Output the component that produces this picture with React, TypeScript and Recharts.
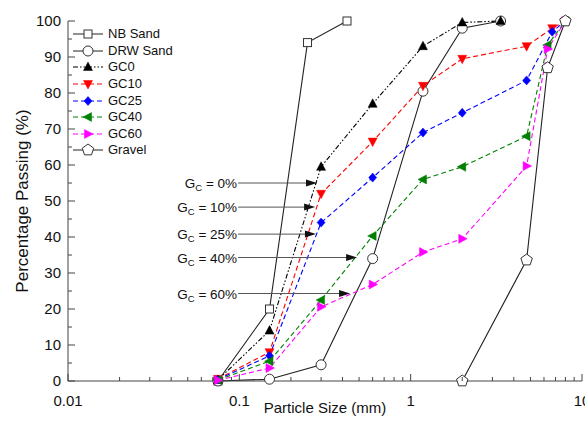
import React from 'react';
import { LineChart, Line, XAxis, YAxis, ReferenceLine } from 'recharts';

// sieve sizes (mm) and percentage passing
const nbSize = [0.075, 0.15, 0.25, 0.425];
const nbPass = [0, 20, 94, 100];
const drwSize = [0.075, 0.15, 0.3, 0.6, 1.18, 2.0, 3.35];
const drwPass = [0, 0.5, 4.5, 34, 80.5, 98, 100];
const gc0Size = [0.075, 0.15, 0.3, 0.6, 1.18, 2.0, 3.35];
const gc0Pass = [0.3, 14, 59.5, 77, 93, 99.6, 100];
const gcSize = [0.075, 0.15, 0.3, 0.6, 1.18, 2.0, 4.75, 6.7, 8];
const gc10Pass = [0.6, 8, 52, 66.5, 82, 89.5, 93, 98, 100];
const gc25Pass = [0.4, 7, 44, 56.5, 69, 74.5, 83.5, 97, 100];
const gc40Size = [0.075, 0.15, 0.3, 0.6, 1.18, 2.0, 4.75, 6.3, 8];
const gc40Pass = [0.3, 5.5, 22.5, 40.3, 56, 59.5, 68, 93.3, 100];
const gc60Pass = [0.2, 3.6, 20.6, 26.8, 35.8, 39.5, 59.7, 92.2, 100];
const gravelSize = [2.0, 4.75, 6.3, 8];
const gravelPass = [0, 33.6, 87, 100];

const xMajor = [0.01, 0.1, 1, 10];
const xTicks = [0.01, 0.02, 0.03, 0.04, 0.05, 0.06, 0.07, 0.08, 0.09,
  0.1, 0.2, 0.3, 0.4, 0.5, 0.6, 0.7, 0.8, 0.9,
  1, 2, 3, 4, 5, 6, 7, 8, 9, 10];
const yTicks = [0, 5, 10, 15, 20, 25, 30, 35, 40, 45, 50, 55, 60, 65, 70, 75, 80, 85, 90, 95, 100];

// G_C arrows: label, y level, start and tip sizes
const arrowLabels = ['0%', '10%', '25%', '40%', '60%'];
const arrowY = [55.0, 48.3, 40.8, 34.3, 24.3];
const arrowFrom = [0.0983, 0.0983, 0.0983, 0.0983, 0.0983];
const arrowTo = [0.284, 0.277, 0.28, 0.487, 0.443];

const toRows = (xs: number[], ys: number[]) => xs.map((x, i) => ({ size: x, pass: ys[i] }));

const FONT = '"Liberation Sans", Arial, sans-serif';
const AXIS = '#444';

type Kind = 'square' | 'circle' | 'pentagon' | 'up' | 'down' | 'diamond' | 'left' | 'right';

const pts = (arr: number[][]) => arr.map(p => p.join(',')).join(' ');

const Marker = ({ kind, cx, cy, color }: { kind: Kind; cx: number; cy: number; color: string }) => {
  const hollow = { fill: '#fff', stroke: '#333', strokeWidth: 1 };
  const solid = { fill: color, stroke: color, strokeWidth: 0.5 };
  switch (kind) {
    case 'square':
      return <rect x={cx - 4} y={cy - 4} width={8} height={8} {...hollow} />;
    case 'circle':
      return <circle cx={cx} cy={cy} r={5} {...hollow} />;
    case 'pentagon': {
      const p = [0, 1, 2, 3, 4].map(k => {
        const a = (-90 + 72 * k) * Math.PI / 180;
        return [cx + 6 * Math.cos(a), cy + 6 * Math.sin(a)];
      });
      return <polygon points={pts(p)} {...hollow} />;
    }
    case 'up':
      return <polygon points={pts([[cx, cy - 5], [cx - 4.5, cy + 3.5], [cx + 4.5, cy + 3.5]])} {...solid} />;
    case 'down':
      return <polygon points={pts([[cx, cy + 5], [cx - 4.5, cy - 3.5], [cx + 4.5, cy - 3.5]])} {...solid} />;
    case 'diamond':
      return <polygon points={pts([[cx, cy - 4.5], [cx + 4, cy], [cx, cy + 4.5], [cx - 4, cy]])} {...solid} />;
    case 'left':
      return <polygon points={pts([[cx - 5, cy], [cx + 3.5, cy - 4.5], [cx + 3.5, cy + 4.5]])} {...solid} />;
    case 'right':
      return <polygon points={pts([[cx + 5, cy], [cx - 3.5, cy - 4.5], [cx - 3.5, cy + 4.5]])} {...solid} />;
  }
  return null;
};

const dotOf = (kind: Kind, color: string) => (props: any) => {
  const { cx, cy, index } = props;
  if (cx == null || cy == null) return <g key={index} />;
  return <g key={index}><Marker kind={kind} cx={cx} cy={cy} color={color} /></g>;
};

const series = [
  { name: 'NB Sand', data: toRows(nbSize, nbPass), color: '#222', kind: 'square' as Kind, dash: undefined },
  { name: 'DRW Sand', data: toRows(drwSize, drwPass), color: '#222', kind: 'circle' as Kind, dash: undefined },
  { name: 'GC0', data: toRows(gc0Size, gc0Pass), color: '#000', kind: 'up' as Kind, dash: '5 2 1.5 2 1.5 2' },
  { name: 'GC10', data: toRows(gcSize, gc10Pass), color: '#ff0000', kind: 'down' as Kind, dash: '5 3' },
  { name: 'GC25', data: toRows(gcSize, gc25Pass), color: '#0000ff', kind: 'diamond' as Kind, dash: '5 3' },
  { name: 'GC40', data: toRows(gc40Size, gc40Pass), color: '#008000', kind: 'left' as Kind, dash: '5 3' },
  { name: 'GC60', data: toRows(gc40Size, gc60Pass), color: '#ff00ff', kind: 'right' as Kind, dash: '5 3' },
  { name: 'Gravel', data: toRows(gravelSize, gravelPass), color: '#222', kind: 'pentagon' as Kind, dash: undefined },
];

const isMajorX = (v: number) => xMajor.some(m => Math.abs(m - v) < 1e-9);

const BottomTick = (props: any) => {
  const { x, y, payload } = props;
  const major = isMajorX(payload.value);
  return (
    <g>
      <line x1={x} x2={x} y1={y} y2={y - (major ? 7 : 4)} stroke={AXIS} />
      {major && (
        <text x={x} y={y + 25} textAnchor="middle" fontSize={15} fill="#111" fontFamily={FONT}>
          {String(payload.value)}
        </text>
      )}
    </g>
  );
};

const TopTick = (props: any) => {
  const { x, y, payload } = props;
  const major = isMajorX(payload.value);
  return <line x1={x} x2={x} y1={y} y2={y + (major ? 7 : 4)} stroke={AXIS} />;
};

const LeftTick = (props: any) => {
  const { x, y, payload } = props;
  const major = payload.value % 10 === 0;
  return (
    <g>
      <line x1={x} x2={x + (major ? 7 : 4)} y1={y} y2={y} stroke={AXIS} />
      {major && (
        <text x={x - 7} y={y + 5} textAnchor="end" fontSize={15} fill="#111" fontFamily={FONT}>
          {payload.value}
        </text>
      )}
    </g>
  );
};

const RightTick = (props: any) => {
  const { x, y, payload } = props;
  const major = payload.value % 10 === 0;
  return <line x1={x} x2={x - (major ? 7 : 4)} y1={y} y2={y} stroke={AXIS} />;
};

const arrowShape = (label: string) => (p: any) => {
  const { x1, y1, x2 } = p;
  if (x1 == null) return <g />;
  return (
    <g>
      <line x1={x1} y1={y1} x2={x2 - 8} y2={y1} stroke="#555" strokeWidth={1} />
      <polygon points={pts([[x2, y1], [x2 - 11, y1 - 3.5], [x2 - 11, y1 + 3.5]])} fill="#111" />
      <text x={x1 - 1} y={y1 + 5} textAnchor="end" fontSize={13.5} fill="#111" fontFamily={FONT}>
        G<tspan fontSize={9.5} dy={3}>C</tspan><tspan dy={-3}>{` = ${label}`}</tspan>
      </text>
    </g>
  );
};

const LegendBox = () => (
  <div style={{ position: 'absolute', left: 72, top: 26, fontFamily: FONT, fontSize: 13, color: '#111' }}>
    {series.map(s => (
      <div key={s.name} style={{ display: 'flex', alignItems: 'center', height: 16.6 }}>
        <svg width={34} height={16} style={{ display: 'block' }}>
          <line x1={1} x2={31} y1={8} y2={8} stroke={s.color} strokeWidth={1} strokeDasharray={s.dash} />
          <Marker kind={s.kind} cx={16} cy={8} color={s.color} />
        </svg>
        <span style={{ marginLeft: 2, lineHeight: '16px' }}>{s.name}</span>
      </div>
    ))}
  </div>
);

const App = () => {
  return (
    <div style={{ position: 'absolute', left: 0, top: 0, width: 585, height: 422, background: '#fff', fontFamily: FONT }}>
      <LineChart width={585} height={422} margin={{ top: 21, right: 3, bottom: 0, left: 0 }}>
        <XAxis
          dataKey="size" type="number" scale="log" domain={[0.01, 10]} allowDataOverflow
          ticks={xTicks} interval={0} tickSize={0} tickMargin={0} tickLine={false}
          tick={BottomTick} height={41} axisLine={{ stroke: AXIS }}
        />
        <XAxis
          xAxisId="top" orientation="top" dataKey="size" type="number" scale="log" domain={[0.01, 10]}
          allowDataOverflow ticks={xTicks} interval={0} tickSize={0} tickMargin={0} tickLine={false}
          tick={TopTick} height={0} axisLine={{ stroke: AXIS }}
        />
        <YAxis
          type="number" domain={[0, 100]} ticks={yTicks} interval={0} tickSize={0} tickMargin={0}
          tickLine={false} tick={LeftTick} width={68} axisLine={{ stroke: AXIS }}
        />
        <YAxis
          yAxisId="right" orientation="right" type="number" domain={[0, 100]} ticks={yTicks} interval={0}
          tickSize={0} tickMargin={0} tickLine={false} tick={RightTick} width={0} axisLine={{ stroke: AXIS }}
        />
        {series.map(s => (
          <Line
            key={s.name} data={s.data} dataKey="pass" name={s.name} type="linear"
            stroke={s.color} strokeWidth={1.1} strokeDasharray={s.dash}
            dot={dotOf(s.kind, s.color)} activeDot={false} isAnimationActive={false}
          />
        ))}
        {arrowLabels.map((lab, i) => (
          <ReferenceLine
            key={lab}
            segment={[{ x: arrowFrom[i], y: arrowY[i] }, { x: arrowTo[i], y: arrowY[i] }]}
            shape={arrowShape(lab)}
          />
        ))}
      </LineChart>
      <LegendBox />
      <div style={{ position: 'absolute', left: 68, width: 514, top: 399, textAlign: 'center', fontSize: 15, color: '#111' }}>
        Particle Size (mm)
      </div>
      <div style={{
        position: 'absolute', left: 23, top: 201, transform: 'translate(-50%, -50%) rotate(-90deg)',
        whiteSpace: 'nowrap', fontSize: 17, color: '#111'
      }}>
        Percentage Passing (%)
      </div>
    </div>
  );
};

export default App;
